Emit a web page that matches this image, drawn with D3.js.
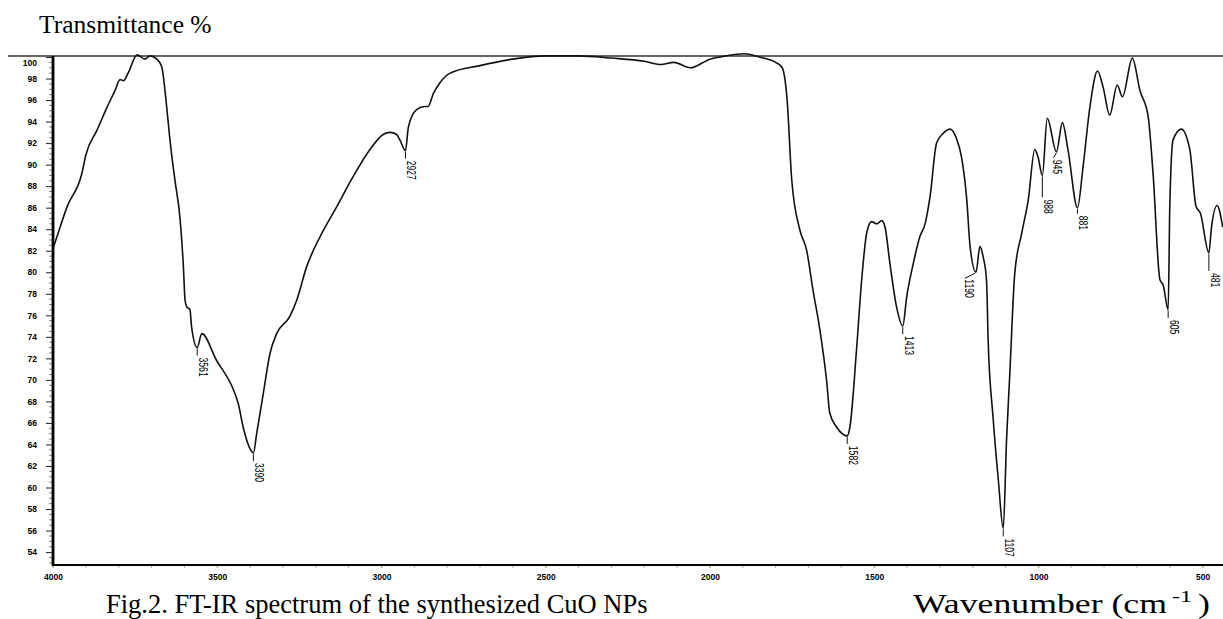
<!DOCTYPE html>
<html>
<head>
<meta charset="utf-8">
<script src="https://cdn.jsdelivr.net/npm/d3@7"></script>
<style>
  html, body { margin: 0; padding: 0; background: #fff; }
  svg { display: block; }
  .caption { font-family: "Liberation Serif", "Times New Roman", serif; fill: #000; }
  .tick-label { font-family: "Liberation Sans", Arial, sans-serif; font-weight: bold; font-size: 8.5px; fill: #000; }
  .peak-label { font-family: "Liberation Sans", Arial, sans-serif; font-size: 13px; fill: #000; }
</style>
</head>
<body>
<svg id="chart" width="1223" height="619"></svg>
<script>
// FT-IR spectrum of CuO NPs.

var wavenumber = [
    4000, 3988, 3957, 3912, 3900, 3866, 3836, 3811, 3796, 3785, 3770, 3744, 3720, 3705,
    3684, 3669, 3654, 3644, 3629, 3613, 3603, 3598, 3593, 3583, 3578, 3561, 3547, 3502,
    3451, 3436, 3421, 3400, 3390, 3380, 3360, 3339, 3319, 3279, 3258, 3228, 3187, 3136,
    3086, 3035, 2995, 2974, 2954, 2944, 2927, 2918, 2893, 2868, 2858, 2842, 2822, 2791,
    2700, 2600, 2500, 2400, 2300, 2200, 2150, 2110, 2060, 2000, 1970, 1895, 1850, 1800,
    1780, 1765, 1751, 1726, 1706, 1686, 1665, 1645, 1635, 1614, 1582, 1574, 1553, 1538,
    1523, 1508, 1492, 1477, 1467, 1452, 1432, 1413, 1401, 1381, 1361, 1345, 1330, 1310,
    1290, 1269, 1249, 1234, 1218, 1208, 1190, 1178, 1168, 1158, 1153, 1138, 1122, 1107,
    1097, 1087, 1072, 1051, 1031, 1011, 1001, 988, 973, 945, 927, 910, 881, 864,
    843, 820, 803, 783, 760, 744, 714, 691, 666, 651, 630, 620, 605, 600,
    590, 565, 539, 520, 507, 481, 473, 456, 439
];

var transmittance = [
    82.2, 83.3, 86.1, 89.2, 90.9, 93.2, 95.3, 96.9, 97.9, 97.8, 98.6, 100.2, 99.8, 100.1,
    99.8, 99.1, 95.4, 92.3, 88.6, 84.9, 80.5, 77.4, 76.8, 76.5, 74.9, 73.0, 74.3, 71.8,
    69.1, 67.8, 65.6, 63.6, 63.2, 65.0, 68.7, 72.5, 74.3, 75.9, 77.4, 80.5, 83.3, 86.1,
    88.9, 91.4, 92.8, 93.0, 92.8, 92.3, 91.3, 93.5, 95.1, 95.4, 95.4, 96.6, 97.6, 98.5,
    99.2, 99.8, 100.1, 100.1, 99.9, 99.6, 99.3, 99.5, 99.0, 99.8, 100.0, 100.3, 100.0, 99.5,
    99.0, 96.0, 88.6, 83.9, 82.1, 78.3, 74.6, 70.0, 66.9, 65.6, 64.8, 65.6, 73.1, 79.3,
    83.6, 84.7, 84.5, 84.8, 84.2, 80.8, 76.8, 75.0, 77.7, 80.8, 83.3, 84.5, 87.0, 92.0,
    92.9, 93.3, 92.4, 90.7, 86.7, 82.4, 80.0, 82.4, 81.4, 79.3, 73.7, 66.5, 60.7, 56.2,
    64.4, 70.6, 79.9, 83.6, 86.7, 91.4, 90.7, 89.0, 94.3, 91.2, 93.9, 91.4, 86.0, 89.8,
    95.4, 98.7, 97.2, 94.6, 97.4, 96.3, 99.9, 96.9, 94.5, 89.2, 79.3, 78.8, 76.5, 86.1,
    92.3, 93.3, 91.4, 86.1, 85.5, 81.8, 84.2, 86.2, 84.2
];

// Peaks marked on the spectrum
var peakLabels = [3561, 3390, 2927, 1582, 1413, 1190, 1107, 988, 945, 881, 605, 481];

var xTicks = [4000, 3500, 3000, 2500, 2000, 1500, 1000, 500];
var yTicks = [54, 56, 58, 60, 62, 64, 66, 68, 70, 72, 74, 76, 78, 80, 82, 84, 86, 88, 90, 92, 94, 96, 98, 100];

(function () {
    var svg = d3.select("#chart");

    var plotLeft = 53, plotRight = 1223, plotTop = 57, plotBottom = 565;

    var x = d3.scaleLinear().domain([4000, 438]).range([plotLeft, plotRight]);
    var y = d3.scaleLinear().domain([52.8, 100]).range([plotBottom, plotTop]);

    var points = wavenumber.map(function (w, i) { return [w, transmittance[i]]; });

    // Horizontal rule along the top of the frame
    svg.append("line")
        .attr("x1", 8).attr("x2", plotRight)
        .attr("y1", plotTop - 1).attr("y2", plotTop - 1)
        .attr("stroke", "#3b3222").attr("stroke-width", 1.6);

    // Minor y ticks every 0.5 %
    var yMinor = d3.range(53, 100.01, 0.5).filter(function (v) { return v % 2 !== 0; });
    svg.append("g")
        .selectAll("line")
        .data(yMinor)
        .enter().append("line")
        .attr("x1", plotLeft - 4).attr("x2", plotLeft)
        .attr("y1", function (d) { return y(d); })
        .attr("y2", function (d) { return y(d); })
        .attr("stroke", "#8a8070").attr("stroke-width", 1);

    // Major y ticks + labels
    var yAxis = svg.append("g")
        .attr("transform", "translate(" + plotLeft + ",0)")
        .call(d3.axisLeft(y).tickValues(yTicks).tickSize(7).tickPadding(9).tickFormat(d3.format("d")));
    yAxis.select(".domain").remove();
    yAxis.selectAll(".tick line").attr("stroke", "#222").attr("stroke-width", 1);
    yAxis.selectAll(".tick text").attr("class", "tick-label");
    // The 100 label sits just below the top rule
    yAxis.selectAll(".tick text").filter(function (d) { return d === 100; }).attr("dy", "1.0em");

    // Minor x ticks every 100 cm-1
    svg.append("g")
        .selectAll("line")
        .data(d3.range(4000, 438, -100))
        .enter().append("line")
        .attr("x1", function (d) { return x(d); })
        .attr("x2", function (d) { return x(d); })
        .attr("y1", plotBottom).attr("y2", plotBottom + 3)
        .attr("stroke", "#c4b484").attr("stroke-width", 1);

    var xAxis = svg.append("g")
        .attr("transform", "translate(0," + plotBottom + ")")
        .call(d3.axisBottom(x).tickValues(xTicks).tickSize(3).tickPadding(6).tickFormat(d3.format("d")));
    xAxis.select(".domain").remove();
    xAxis.selectAll(".tick line").attr("stroke", "#b8a878");
    xAxis.selectAll(".tick text").attr("class", "tick-label");

    // Frame: heavy left and bottom axes
    svg.append("line")
        .attr("x1", plotLeft).attr("x2", plotLeft)
        .attr("y1", plotTop - 1).attr("y2", plotBottom + 1)
        .attr("stroke", "#000").attr("stroke-width", 2.8);
    svg.append("line")
        .attr("x1", plotLeft).attr("x2", plotRight)
        .attr("y1", plotBottom).attr("y2", plotBottom)
        .attr("stroke", "#000").attr("stroke-width", 2);

    // The spectrum
    var line = d3.line()
        .x(function (d) { return x(d[0]); })
        .y(function (d) { return y(d[1]); })
        .curve(d3.curveMonotoneX);

    svg.append("path")
        .datum(points)
        .attr("d", line)
        .attr("fill", "none")
        .attr("stroke", "#111")
        .attr("stroke-width", 1.6)
        .attr("stroke-linejoin", "round");

    // Peak markers: short drop line then a number reading downwards
    var valueAt = function (w) {
        return transmittance[wavenumber.indexOf(w)];
    };
    var tickLen = { 988: 22, 881: 6, 481: 18 };

    var peaks = svg.append("g");
    peakLabels.forEach(function (w) {
        var px = x(w), py = y(valueAt(w));
        var g = peaks.append("g");
        var tx, ty;
        if (w === 1190) {
            // label pushed left of the dip with a slanted leader
            g.append("line")
                .attr("x1", px - 1).attr("y1", py + 1)
                .attr("x2", px - 11).attr("y2", py + 6)
                .attr("stroke", "#111").attr("stroke-width", 1);
            tx = px - 11; ty = py + 7;
        } else if (w === 945) {
            g.append("line")
                .attr("x1", px).attr("y1", py + 1)
                .attr("x2", px - 3).attr("y2", py + 6)
                .attr("stroke", "#111").attr("stroke-width", 1);
            tx = px - 3; ty = py + 8;
        } else {
            var len = tickLen[w] || 8;
            g.append("line")
                .attr("x1", px).attr("y1", py + 1)
                .attr("x2", px).attr("y2", py + len)
                .attr("stroke", "#111").attr("stroke-width", 1);
            tx = px + 2; ty = py + len + 2;
        }
        g.append("text")
            .attr("class", "peak-label")
            .attr("transform", "translate(" + tx + "," + ty + ") rotate(90) scale(0.66,1)")
            .text(w);
    });

    // Captions
    svg.append("text")
        .attr("class", "caption")
        .attr("x", 39).attr("y", 33)
        .attr("font-size", 25.5)
        .text("Transmittance %");

    svg.append("text")
        .attr("class", "caption")
        .attr("x", 106).attr("y", 613)
        .attr("font-size", 26.5)
        .text("Fig.2. FT-IR spectrum of the synthesized CuO NPs");

    // x axis title, set a little wider than the caption font
    svg.append("text")
        .attr("class", "caption")
        .attr("x", 913).attr("y", 613)
        .attr("font-size", 28)
        .attr("textLength", 254).attr("lengthAdjust", "spacingAndGlyphs")
        .text("Wavenumber (cm");
    svg.append("text")
        .attr("class", "caption")
        .attr("x", 1172).attr("y", 602)
        .attr("font-size", 16)
        .attr("textLength", 20).attr("lengthAdjust", "spacingAndGlyphs")
        .text("-1");
    svg.append("text")
        .attr("class", "caption")
        .attr("x", 1198).attr("y", 613)
        .attr("font-size", 28)
        .attr("textLength", 12).attr("lengthAdjust", "spacingAndGlyphs")
        .text(")");
})();
</script>
</body>
</html>
